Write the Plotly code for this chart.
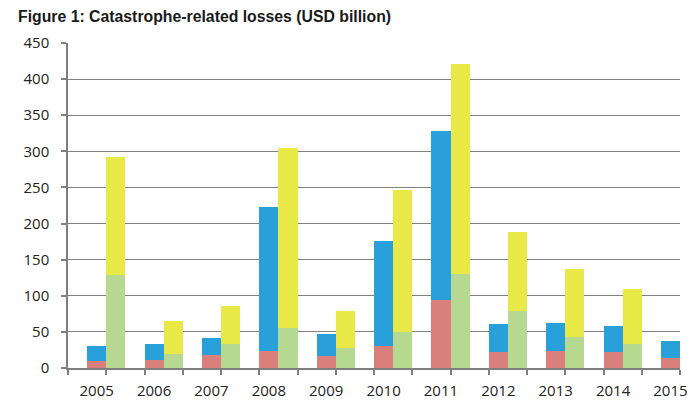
import plotly.graph_objects as go

years = ["2005", "2006", "2007", "2008", "2009", "2010", "2011", "2012", "2013", "2014", "2015"]
# left bar: red bottom + blue top (segment values)
red = [10, 11.5, 18.5, 24, 17, 31, 94, 22.5, 23.5, 22.5, 14.5]
blue = [20, 22, 23, 199.5, 29.5, 145, 233.5, 38, 39.5, 36, 22.5]
# right bar: green bottom + yellow top (segment values); no data for 2015
green = [129, 20, 33.5, 55.5, 27.5, 50, 130.5, 78.5, 43, 33.5, None]
yellow = [162.5, 44.5, 52.5, 249, 52, 197, 291, 110, 94.5, 76.5, None]
y_ticks = [0, 50, 100, 150, 200, 250, 300, 350, 400, 450]

# category slot layout: 3 slots per year (left bar, right bar, gap)
left_x = [1.5 + 3 * i for i in range(len(years))]
right_x = [2.5 + 3 * i for i in range(len(years))]

W, H = 692, 392  # page body adds an 8px offset

fig = go.Figure()
fig.add_bar(x=left_x, y=red, width=1, marker=dict(color="#D9807C", line=dict(width=0)), name="Red")
fig.add_bar(x=left_x, y=blue, width=1, marker=dict(color="#29A0DA", line=dict(width=0)), name="Blue")
fig.add_bar(x=right_x, y=green, width=1, marker=dict(color="#B5D991", line=dict(width=0)), name="Green")
fig.add_bar(x=right_x, y=yellow, width=1, marker=dict(color="#E8E846", line=dict(width=0)), name="Yellow")

fig.update_layout(
    barmode="stack",
    width=W, height=H,
    margin=dict(l=60, r=20, t=35, b=32, autoexpand=False),
    paper_bgcolor="white", plot_bgcolor="white",
    showlegend=False,
    bargap=0,
    font=dict(family="Open Sans, Liberation Sans, sans-serif", size=15, color="#222222"),
    title=dict(
        text="<b>Figure 1: Catastrophe-related losses (USD billion)</b>",
        font=dict(family="Liberation Sans, Arial, sans-serif", size=15.8, color="#1a1a1a"),
        x=10 / W, xref="container", xanchor="left",
        y=1 - 8 / H, yref="container", yanchor="middle",
    ),
)
fig.update_xaxes(
    range=[0, 32], automargin=False,
    tickmode="array", tickvals=left_x, ticktext=years,
    ticks="", showgrid=False, zeroline=False,
    showline=True, linecolor="#7f7f7f", linewidth=1.5,
    ticklabelstandoff=8,
    minor=dict(tickmode="array", tickvals=list(range(0, 33, 2)), ticks="outside",
               ticklen=5, tickcolor="#7f7f7f", tickwidth=1.5, showgrid=False),
)
fig.update_yaxes(
    range=[0, 450], tickmode="array", tickvals=y_ticks, automargin=False,
    showgrid=True, gridcolor="#7f7f7f", gridwidth=1.2,
    zeroline=False,
    showline=True, linecolor="#7f7f7f", linewidth=1.5,
    ticks="outside", ticklen=5, tickcolor="#7f7f7f", tickwidth=1.5,
    ticklabelstandoff=9,
)

fig.write_html("out.html")
